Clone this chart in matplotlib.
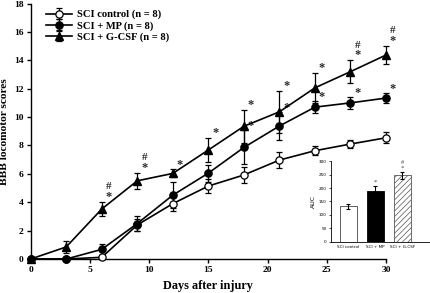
import matplotlib
matplotlib.use("Agg")
import matplotlib.pyplot as plt
import numpy as np

days = [0, 3, 6, 9, 12, 15, 18, 21, 24, 27, 30]
ctrl_mean = [0, 0, 0.12, 2.4, 3.9, 5.14, 5.92, 6.97, 7.63, 8.1, 8.54]
ctrl_err = [0, 0, 0.1, 0.45, 0.55, 0.5, 0.55, 0.55, 0.3, 0.25, 0.4]
mp_mean = [0, 0, 0.68, 2.5, 4.5, 6.05, 7.86, 9.37, 10.7, 11.0, 11.34]
mp_err = [0, 0, 0.4, 0.5, 0.9, 0.6, 1.2, 1.0, 0.4, 0.4, 0.35]
gcsf_mean = [0, 0.85, 3.52, 5.51, 6.03, 7.68, 9.35, 10.37, 12.06, 13.2, 14.37]
gcsf_err = [0, 0.45, 0.48, 0.57, 0.28, 0.87, 1.18, 1.5, 1.05, 0.8, 0.65]

gcsf_star_days = [6, 9, 12, 15, 18, 21, 24, 27, 30]
gcsf_hash_days = [6, 9, 27, 30]
mp_star_days = [18, 21, 24, 27, 30]

auc_labels = ["SCI control", "SCI + MP", "SCI + G-CSF"]
auc_mean = [132, 190, 247]
auc_err = [9, 17, 13]
auc_star = ["", "*", "*"]
auc_hash = ["", "", "#"]

labels = ["SCI control (n = 8)", "SCI + MP (n = 8)", "SCI + G-CSF (n = 8)"]

serif = ["Liberation Serif", "DejaVu Serif"]
plt.rcParams["font.family"] = serif
plt.rcParams["font.weight"] = "bold"
plt.rcParams["hatch.linewidth"] = 0.5

fig = plt.figure(figsize=(4.31, 2.93), dpi=100)
ax = fig.add_axes([0.0712, 0.116, 0.8244, 0.872])

common = dict(color="black", lw=1.2, elinewidth=0.9, capsize=2.3, capthick=0.9, ms=5.2, clip_on=False, zorder=3)
ax.errorbar(days, ctrl_mean, yerr=ctrl_err, marker="o", mfc="white", mec="black", mew=0.9, label=labels[0], **common)
ax.errorbar(days, mp_mean, yerr=mp_err, marker="o", mfc="black", mec="black", label=labels[1], **common)
ax.errorbar(days, gcsf_mean, yerr=gcsf_err, marker="^", mfc="black", mec="black", label=labels[2], **common)

def mark(d, m, e, sym, dy, fs):
    ax.annotate(sym, (d, m + e), xytext=(5, dy), textcoords="offset points",
                ha="center", va="center", fontsize=fs, fontweight="bold", color="#2a2a2a")

for d in gcsf_star_days:
    i = days.index(d)
    mark(d, gcsf_mean[i], gcsf_err[i], "*", 3.5, 9)
for d in gcsf_hash_days:
    i = days.index(d)
    mark(d, gcsf_mean[i], gcsf_err[i], "#", 11, 8)
for d in mp_star_days:
    i = days.index(d)
    mark(d, mp_mean[i], mp_err[i], "*", 3, 9)

ax.set_xlim(0, 30)
ax.set_ylim(0, 18)
ax.set_xticks(range(0, 31, 5))
ax.set_yticks(range(0, 19, 2))
for s in ["top", "right"]:
    ax.spines[s].set_visible(False)
for s in ["left", "bottom"]:
    ax.spines[s].set_linewidth(1.0)
ax.tick_params(direction="out", length=3, width=1.0, labelsize=6.8, pad=2)
for t in ax.get_xticklabels() + ax.get_yticklabels():
    t.set_fontweight("bold")
ax.set_xlabel("Days after injury", fontsize=8.8, fontweight="bold")
ax.set_ylabel("BBB locomotor scores", fontsize=8.2, fontweight="bold")
ax.xaxis.set_label_coords(0.5, -0.082)
ax.yaxis.set_label_coords(-0.06, 0.5)

leg = ax.legend(loc="upper left", bbox_to_anchor=(0.025, 1.0), frameon=False, fontsize=7.6,
                handlelength=2.5, handletextpad=0.4, labelspacing=0.15, borderaxespad=0.2)
for t in leg.get_texts():
    t.set_fontweight("bold")

# inset
ins = fig.add_axes([0.767, 0.175, 0.232, 0.275])
ins.patch.set_alpha(0)
x = np.arange(3)
ekw = dict(ecolor="black", elinewidth=0.8, capsize=1.5, capthick=0.8)
ins.bar(x[0], auc_mean[0], 0.65, color="white", edgecolor="#444444", lw=0.6, yerr=auc_err[0], error_kw=ekw)
ins.bar(x[1], auc_mean[1], 0.65, color="black", edgecolor="black", lw=0.6, yerr=auc_err[1], error_kw=ekw)
ins.bar(x[2], auc_mean[2], 0.65, color="white", edgecolor="#555555", hatch="//////", lw=0.6, yerr=auc_err[2], error_kw=ekw)
for i in range(3):
    if auc_star[i]:
        ins.annotate(auc_star[i], (x[i], auc_mean[i] + auc_err[i]), xytext=(0, 3), textcoords="offset points",
                     ha="center", va="center", fontsize=5, fontweight="normal", color="#444444")
    if auc_hash[i]:
        ins.annotate(auc_hash[i], (x[i], auc_mean[i] + auc_err[i]), xytext=(0, 7), textcoords="offset points",
                     ha="center", va="center", fontsize=4.5, fontweight="normal", color="#444444")
ins.set_xlim(-0.66, 3.05)
ins.set_ylim(0, 300)
ins.set_yticks(range(0, 301, 50))
ins.set_xticks(x)
ins.set_xticklabels(auc_labels, family="DejaVu Sans", fontsize=3.0, fontweight="normal")
for t in ins.get_yticklabels():
    t.set_family("DejaVu Sans")
    t.set_fontweight("normal")
ins.tick_params(axis="y", labelsize=3.0, length=1.5, width=0.5, pad=1.5)
ins.tick_params(axis="x", length=0, pad=2.5)
for s in ["top", "right"]:
    ins.spines[s].set_visible(False)
for s in ["left", "bottom"]:
    ins.spines[s].set_linewidth(0.6)
ins.set_ylabel("AUC", family="DejaVu Sans", fontsize=4.5, fontweight="normal", labelpad=2)

fig.savefig("out.png", dpi=100)
